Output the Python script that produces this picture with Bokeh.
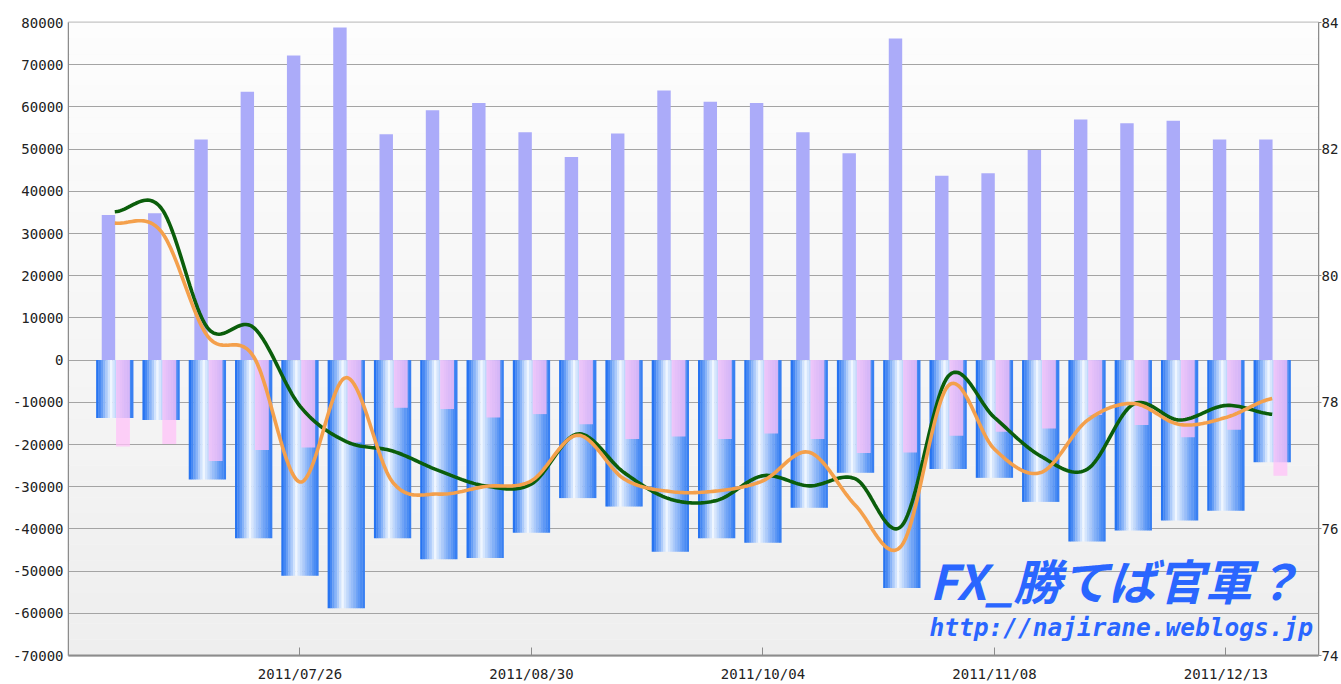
import numpy as np
from bokeh.plotting import figure
from bokeh.models import Range1d, LinearAxis, FixedTicker, Label
from bokeh.embed import file_html
from bokeh.resources import INLINE

# ---------------- data ----------------
dates = ["2011/06/28", "2011/07/05", "2011/07/12", "2011/07/19", "2011/07/26",
         "2011/08/02", "2011/08/09", "2011/08/16", "2011/08/23", "2011/08/30",
         "2011/09/06", "2011/09/13", "2011/09/20", "2011/09/27", "2011/10/04",
         "2011/10/11", "2011/10/18", "2011/10/25", "2011/11/01", "2011/11/08",
         "2011/11/15", "2011/11/22", "2011/11/29", "2011/12/06", "2011/12/13",
         "2011/12/20"]
shown_dates = ["2011/07/26", "2011/08/30", "2011/10/04", "2011/11/08", "2011/12/13"]

long_pos = [34400, 34800, 52300, 63600, 72200, 78800, 53500, 59200, 60900, 54000,
            48100, 53700, 63900, 61200, 60900, 54000, 49000, 76200, 43700, 44300,
            49800, 57000, 56100, 56700, 52300, 52300]
short_pos = [-13700, -14200, -28300, -42200, -51100, -58800, -42200, -47200, -46900, -40900,
             -32700, -34700, -45400, -42200, -43300, -35000, -26700, -54000, -25800, -27900,
             -33600, -43000, -40400, -38000, -35700, -24200]
short_pink = [-20500, -19900, -23900, -21300, -20700, -19500, -11300, -11600, -13600, -12800,
              -15200, -18700, -18100, -18700, -17400, -18700, -22000, -21900, -17900, -17000,
              -16200, -13000, -15400, -18300, -16500, -27400]
green_rate = [81.01, 81.07, 79.18, 79.18, 77.94, 77.38, 77.23, 76.92, 76.68, 76.71,
              77.50, 76.89, 76.47, 76.45, 76.84, 76.68, 76.79, 76.05, 78.41, 77.76,
              77.15, 76.94, 77.97, 77.72, 77.95, 77.81]
orange_rate = [80.83, 80.70, 79.05, 78.72, 76.74, 78.39, 76.74, 76.55, 76.67, 76.76,
               77.48, 76.79, 76.59, 76.60, 76.76, 77.21, 76.37, 75.74, 78.26, 77.26,
               76.89, 77.71, 77.98, 77.65, 77.76, 78.06]

left_ticks = list(range(-70000, 80001, 10000))
left_tick_labels = [str(v) for v in left_ticks]
right_ticks = [74, 76, 78, 80, 82, 84]

# ---------------- helpers ----------------
def catmull_rom(xs, ys, n=24):
    xs = np.asarray(xs, float)
    ys = np.asarray(ys, float)
    px = np.concatenate([[2 * xs[0] - xs[1]], xs, [2 * xs[-1] - xs[-2]]])
    py = np.concatenate([[ys[0]], ys, [ys[-1]]])
    ox, oy = [], []
    t = np.linspace(0, 1, n, endpoint=False)
    for i in range(1, len(px) - 2):
        for arr, out in ((px, ox), (py, oy)):
            p0, p1, p2, p3 = arr[i - 1], arr[i], arr[i + 1], arr[i + 2]
            out.extend(0.5 * ((2 * p1) + (-p0 + p2) * t
                              + (2 * p0 - 5 * p1 + 4 * p2 - p3) * t ** 2
                              + (-p0 + 3 * p1 - 3 * p2 + p3) * t ** 3))
    ox.append(xs[-1]); oy.append(ys[-1])
    return ox, oy

def mix(c1, c2, w):
    return "#%02x%02x%02x" % tuple(int(round(a + (b - a) * w)) for a, b in zip(c1, c2))

# ---------------- figure ----------------
n = len(dates)
xi = np.arange(n)

p = figure(width=1341, height=684, x_range=Range1d(-1, 26), y_range=Range1d(-70000, 80000),
           output_backend="svg", toolbar_location=None,
           min_border_left=68, min_border_right=17, min_border_top=22, min_border_bottom=27)
p.extra_y_ranges = {"right": Range1d(74, 84)}
p.background_fill_color = "#f7f7f7"
p.border_fill_color = "white"
p.outline_line_color = "#c4c4c4"
p.outline_line_width = 2

# background vertical gradient
edges = np.linspace(-70000, 80000, 41)
bg_cols = [mix((238, 238, 238), (253, 253, 253), (k + 0.5) / 40) for k in range(40)]
bg = p.quad(left=-1, right=26, bottom=edges[:-1], top=edges[1:], fill_color=bg_cols,
            line_color=None)
bg.level = "image"

# blue gradient bars (strips)
bar_w = 0.8
ns = 16
dark = (26, 108, 240)
white = (242, 248, 255)
sx, stop, sbot, scol = [], [], [], []
for s in range(ns):
    tc = (s + 0.5) / ns
    if tc < 0.4:
        w = (tc / 0.4) ** 1.1
    else:
        w = 1 - ((tc - 0.4) / 0.6) ** 0.9 * 0.9
    col = mix(dark, white, w)
    off = -bar_w / 2 + tc * bar_w
    for i in range(n):
        sx.append(i + off); stop.append(0); sbot.append(short_pos[i]); scol.append(col)
p.vbar(x=sx, width=bar_w / ns * 1.12, top=stop, bottom=sbot, fill_color=scol, line_color=None)

# pink bars (semi-transparent over blue)
p.vbar(x=xi + 0.177, width=0.3, top=0, bottom=short_pink, fill_color="#ffc2f8",
       fill_alpha=0.75, line_color=None)
# purple positive bars
p.vbar(x=xi - 0.137, width=0.29, top=long_pos, bottom=0, fill_color="#ababf9",
       line_color=None)

# smooth lines on right axis
gx, gy = catmull_rom(xi, green_rate)
p.line(gx, gy, y_range_name="right", line_color="#0b5e0b", line_width=3.6)
ox_, oy_ = catmull_rom(xi, orange_rate)
p.line(ox_, oy_, y_range_name="right", line_color="#f4a04c", line_width=3.6)

# ---------------- axes ----------------
lab_font = "DejaVu Sans Mono"
p.xgrid.visible = False
p.ygrid.ticker = FixedTicker(ticks=left_ticks)
p.ygrid.grid_line_color = "#a4a4a4"
p.ygrid.grid_line_width = 1

ya = p.yaxis[0]
ya.ticker = FixedTicker(ticks=left_ticks)
ya.major_label_overrides = {v: s for v, s in zip(left_ticks, left_tick_labels)}
ya.major_tick_out = 0
ya.major_tick_in = 0
ya.minor_tick_out = 0
ya.minor_tick_in = 0
ya.axis_line_color = "#8c8c8c"
ya.major_label_standoff = 5
ya.major_label_text_font = lab_font
ya.major_label_text_font_size = "14px"
ya.major_label_text_color = "#222222"

tick_idx = [dates.index(d) for d in shown_dates]
xa = p.xaxis[0]
xa.ticker = FixedTicker(ticks=tick_idx)
xa.major_label_overrides = {i: d for i, d in zip(tick_idx, shown_dates)}
xa.major_tick_in = 8
xa.major_tick_out = 0
xa.minor_tick_in = 0
xa.minor_tick_out = 0
xa.major_tick_line_color = "#8c8c8c"
xa.axis_line_color = "#8c8c8c"
xa.axis_line_width = 2
xa.major_label_standoff = 10
xa.major_label_text_font = lab_font
xa.major_label_text_font_size = "14px"
xa.major_label_text_color = "#222222"

ra = LinearAxis(y_range_name="right", ticker=FixedTicker(ticks=right_ticks))
ra.major_tick_out = 3
ra.major_tick_in = 0
ra.minor_tick_out = 0
ra.minor_tick_in = 0
ra.major_tick_line_color = "#8c8c8c"
ra.axis_line_color = "#8c8c8c"
ra.major_label_standoff = 0
ra.major_label_text_font = lab_font
ra.major_label_text_font_size = "14px"
ra.major_label_text_color = "#222222"
p.add_layout(ra, "right")

# ---------------- watermark ----------------
p.add_layout(Label(x=17.6, y=-51800, text="FX_勝てば官軍？", text_font="Noto Sans CJK JP",
                   text_font_style="bold italic", text_font_size="48px",
                   text_color="#2a66ff", text_baseline="middle"))
p.add_layout(Label(x=17.6, y=-63400, text="http://najirane.weblogs.jp", text_font="DejaVu Sans Mono",
                   text_font_style="bold italic", text_font_size="24.5px",
                   text_color="#2a66ff", text_baseline="middle"))

open("out.html", "w").write(file_html(p, INLINE))
